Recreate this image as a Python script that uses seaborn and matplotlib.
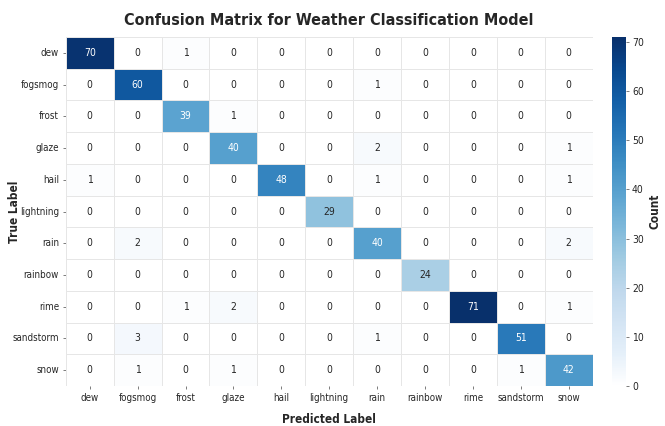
import numpy as np
import pandas as pd
import matplotlib
matplotlib.use("Agg")
import matplotlib.pyplot as plt
from matplotlib.colors import LinearSegmentedColormap
import seaborn as sns

classes = ["dew", "fogsmog", "frost", "glaze", "hail", "lightning",
           "rain", "rainbow", "rime", "sandstorm", "snow"]

row_dew       = [70, 0, 1, 0, 0, 0, 0, 0, 0, 0, 0]
row_fogsmog   = [0, 60, 0, 0, 0, 0, 1, 0, 0, 0, 0]
row_frost     = [0, 0, 39, 1, 0, 0, 0, 0, 0, 0, 0]
row_glaze     = [0, 0, 0, 40, 0, 0, 2, 0, 0, 0, 1]
row_hail      = [1, 0, 0, 0, 48, 0, 1, 0, 0, 0, 1]
row_lightning = [0, 0, 0, 0, 0, 29, 0, 0, 0, 0, 0]
row_rain      = [0, 2, 0, 0, 0, 0, 40, 0, 0, 0, 2]
row_rainbow   = [0, 0, 0, 0, 0, 0, 0, 24, 0, 0, 0]
row_rime      = [0, 0, 1, 2, 0, 0, 0, 0, 71, 0, 1]
row_sandstorm = [0, 3, 0, 0, 0, 0, 1, 0, 0, 51, 0]
row_snow      = [0, 1, 0, 1, 0, 0, 0, 0, 0, 1, 42]

matrix = pd.DataFrame(
    [row_dew, row_fogsmog, row_frost, row_glaze, row_hail, row_lightning,
     row_rain, row_rainbow, row_rime, row_sandstorm, row_snow],
    index=classes, columns=classes)

# Blues with a pure white floor so empty cells read as white
blue_steps = plt.cm.Blues(np.linspace(0, 1, 12))
blue_steps[0] = (1, 1, 1, 1)
cmap = LinearSegmentedColormap.from_list("blues_white", blue_steps)

sns.set_theme(style="white")
plt.rcParams["font.family"] = ["DejaVu Sans"]
plt.rcParams["font.stretch"] = "condensed"

fig = plt.figure(figsize=(6.65, 4.26), dpi=100)
ax = fig.add_axes([0.099, 0.094, 0.792, 0.819])
cax = fig.add_axes([0.920, 0.094, 0.021, 0.819])

sns.heatmap(matrix, annot=True, fmt="d", cmap=cmap, vmin=0, vmax=71,
            linewidths=0.6, linecolor="#e6e6e6", ax=ax, cbar_ax=cax,
            annot_kws={"size": 7.5})

ax.set_title("Confusion Matrix for Weather Classification Model",
             fontsize=11.5, fontweight="bold", pad=9)
ax.set_xlabel("Predicted Label", fontsize=8.5, fontweight="bold", labelpad=7)
ax.set_ylabel("True Label", fontsize=8.5, fontweight="bold")
ax.yaxis.set_label_coords(-0.085, 0.5)
ax.tick_params(axis="both", labelsize=7, length=2, width=0.6,
               color="#666666", pad=3)
ax.tick_params(axis="both", which="both", bottom=True, left=True)
plt.setp(ax.get_xticklabels(), rotation=0)
plt.setp(ax.get_yticklabels(), rotation=0)

cax.tick_params(labelsize=7.5, length=2.5, width=0.6, color="#666666", pad=2)
cax.set_yticks([0, 10, 20, 30, 40, 50, 60, 70])
cax.set_ylabel("Count", fontsize=8.5, fontweight="bold", labelpad=3)
for s in cax.spines.values():
    s.set_visible(False)

fig.savefig("out.png", dpi=100, facecolor="white")
